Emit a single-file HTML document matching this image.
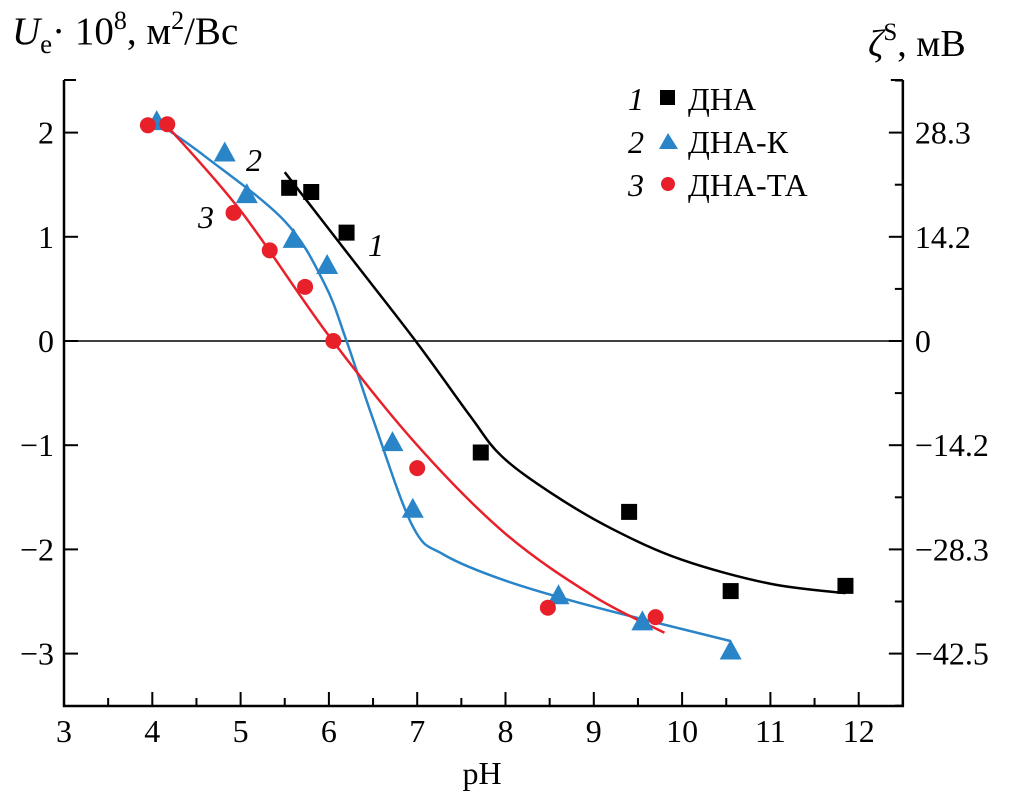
<!DOCTYPE html>
<html><head><meta charset="utf-8"><style>
html,body{margin:0;padding:0;background:#fff;}
svg{display:block;}
svg text{font-family:"Liberation Serif","DejaVu Serif","Noto Serif CJK SC","Times New Roman",serif;}
</style></head><body>
<svg id="chart" width="1013" height="792" viewBox="0 0 1013 792" xmlns="http://www.w3.org/2000/svg">
<g id="axes"></g>
<g id="series"></g>
<text x="12" y="44" font-size="39"><tspan font-style="italic">U</tspan><tspan font-size="27" dy="9">e</tspan><tspan dy="-9">· 10</tspan><tspan font-size="26" dy="-15">8</tspan><tspan dy="15">, м</tspan><tspan font-size="26" dy="-15">2</tspan><tspan dy="15">/Вс</tspan></text>
<text x="868" y="56" font-size="38"><tspan font-style="italic">ζ</tspan><tspan font-size="25" dy="-16">S</tspan><tspan dy="16">, мВ</tspan></text>
<text x="482" y="784" font-size="32" text-anchor="middle">pH</text>
<text x="368" y="256" font-size="32" font-style="italic">1</text>
<text x="246" y="171" font-size="32" font-style="italic">2</text>
<text x="198" y="228" font-size="32" font-style="italic">3</text>
<g font-size="32">
 <g><text x="628" y="110" font-style="italic">1</text><rect x="660" y="90" width="15" height="15" fill="#000"/><text x="688" y="110">ДНА</text></g>
 <g><text x="628" y="153" font-style="italic">2</text><polygon points="668,133 659,149 678,149" fill="#2a85c8"/><text x="688" y="153">ДНА-К</text></g>
 <g><text x="628" y="196" font-style="italic">3</text><circle cx="668" cy="184" r="7" fill="#e8202a"/><text x="688" y="196">ДНА-ТА</text></g>
</g>
</svg>
<script>
const xTicks=[3,4,5,6,7,8,9,10,11,12];
const yTicks=[2,1,0,-1,-2,-3];
const yTickLabels=["2","1","0","\u22121","\u22122","\u22123"];
const rightTickLabels=["28.3","14.2","0","\u221214.2","\u221228.3","\u221242.5"];
const s1x=[5.55,5.8,6.2,7.72,9.4,10.55,11.85];
const s1y=[1.47,1.43,1.04,-1.07,-1.64,-2.4,-2.35];
const s2x=[4.05,4.82,5.07,5.6,5.98,6.72,6.95,8.6,9.55,10.55];
const s2y=[2.1,1.8,1.4,0.97,0.72,-0.98,-1.62,-2.45,-2.7,-2.98];
const s3x=[3.95,4.17,4.92,5.33,5.73,6.05,7.0,8.48,9.7];
const s3y=[2.07,2.08,1.23,0.87,0.52,0.0,-1.22,-2.56,-2.65];
const f1x=[5.5,6.25,7.0,7.6,7.95,8.5,9.2,10,11,11.85];
const f1y=[1.62,0.8,-0.02,-0.72,-1.1,-1.45,-1.8,-2.1,-2.33,-2.42];
const f2x=[4.05,4.6,5.5,5.95,6.2,6.5,6.95,7.3,8,9,10.55];
const f2y=[2.1,1.77,1.15,0.55,0.0,-0.75,-1.78,-2.05,-2.3,-2.55,-2.88];
const f3x=[4.15,5,6,7,8,9,9.8];
const f3y=[2.08,1.25,0.05,-1.0,-1.85,-2.45,-2.8];

const X=v=>64+(v-3)*88.3;
const Y=v=>341-v*104.2;
const NS="http://www.w3.org/2000/svg";
const axes=document.getElementById('axes'), ser=document.getElementById('series');
function mk(tag,attrs,parent){const e=document.createElementNS(NS,tag);for(const k in attrs)e.setAttribute(k,attrs[k]);parent.appendChild(e);return e;}
const L=X(3),R=X(12.5),T=80,B=706;
let e=mk('path',{d:`M${L},${T}V${B}H${R}V${T}`,fill:'none',stroke:'#000','stroke-width':2.5},axes);


e=mk('line',{x1:L,x2:R,y1:Y(0),y2:Y(0),stroke:'#000','stroke-width':1.5},axes);


mk('line',{x1:L,x2:L+12,y1:T,y2:T,stroke:'#000','stroke-width':2},axes);
mk('line',{x1:R,x2:R-12,y1:T,y2:T,stroke:'#000','stroke-width':2},axes);
for(let v=3;v<=12.5;v+=0.5){const maj=Number.isInteger(v);mk('line',{x1:X(v),x2:X(v),y1:B,y2:B-(maj?14:8),stroke:'#000','stroke-width':2},axes);}
xTicks.forEach(v=>{const t=mk('text',{x:X(v),y:B+36,'font-size':32,'text-anchor':'middle'},axes);t.textContent=v;

});
for(let v=-3.5;v<=2.5;v+=0.5){const maj=Number.isInteger(v);mk('line',{x1:L,x2:L+(maj?14:0),y1:Y(v),y2:Y(v),stroke:'#000','stroke-width':2},axes);mk('line',{x1:R,x2:R-(maj?14:8),y1:Y(v),y2:Y(v),stroke:'#000','stroke-width':2},axes);}
yTicks.forEach((v,i)=>{let t=mk('text',{x:L-10,y:Y(v)+11,'font-size':32,'text-anchor':'end'},axes);t.textContent=yTickLabels[i];


t=mk('text',{x:R+12,y:Y(v)+11,'font-size':32},axes);t.textContent=rightTickLabels[i];

});
function curve(xs,ys,color,name){const p=xs.map((x,i)=>[X(x),Y(ys[i])]);let d=`M${p[0][0]},${p[0][1]}`;
for(let i=0;i<p.length-1;i++){const p0=p[i-1]||p[i],p1=p[i],p2=p[i+1],p3=p[i+2]||p2;
d+=`C${p1[0]+(p2[0]-p0[0])/6},${p1[1]+(p2[1]-p0[1])/6} ${p2[0]-(p3[0]-p1[0])/6},${p2[1]-(p3[1]-p1[1])/6} ${p2[0]},${p2[1]}`;}
const el=mk('path',{d:d,fill:'none',stroke:color,'stroke-width':2.5},ser);

}
curve(f1x,f1y,'#000','fit-curve-dna');
curve(f2x,f2y,'#2a85c8','fit-curve-dna-k');
curve(f3x,f3y,'#e8202a','fit-curve-dna-ta');
s1x.forEach((x,i)=>{const el=mk('rect',{x:X(x)-8,y:Y(s1y[i])-8,width:16,height:16,fill:'#000'},ser);

});
s2x.forEach((x,i)=>{const cx=X(x),cy=Y(s2y[i]);const el=mk('polygon',{points:`${cx},${cy-12} ${cx-11},${cy+8} ${cx+11},${cy+8}`,fill:'#2a85c8'},ser);

});
s3x.forEach((x,i)=>{const el=mk('circle',{cx:X(x),cy:Y(s3y[i]),r:8,fill:'#e8202a'},ser);

});
</script>
</body></html>
